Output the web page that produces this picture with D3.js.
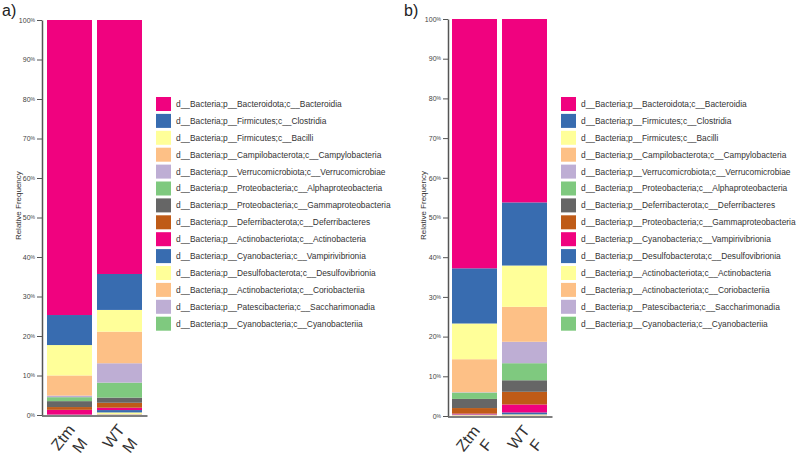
<!DOCTYPE html>
<html>
<head>
<meta charset="utf-8">
<script src="https://cdn.jsdelivr.net/npm/d3@7"></script>
<style>
  body { margin: 0; background: #fff; }
  svg { font-family: "Liberation Sans", Arial, sans-serif; }
</style>
</head>
<body>
<div id="chart"></div>
<script>
// Panel a data (males)
const samplesA = ['Ztm|M', 'WT|M'];
const taxaA = [
  'd__Bacteria;p__Bacteroidota;c__Bacteroidia',
  'd__Bacteria;p__Firmicutes;c__Clostridia',
  'd__Bacteria;p__Firmicutes;c__Bacilli',
  'd__Bacteria;p__Campilobacterota;c__Campylobacteria',
  'd__Bacteria;p__Verrucomicrobiota;c__Verrucomicrobiae',
  'd__Bacteria;p__Proteobacteria;c__Alphaproteobacteria',
  'd__Bacteria;p__Proteobacteria;c__Gammaproteobacteria',
  'd__Bacteria;p__Deferribacterota;c__Deferribacteres',
  'd__Bacteria;p__Actinobacteriota;c__Actinobacteria',
  'd__Bacteria;p__Cyanobacteria;c__Vampirivibrionia',
  'd__Bacteria;p__Desulfobacterota;c__Desulfovibrionia',
  'd__Bacteria;p__Actinobacteriota;c__Coriobacteriia',
  'd__Bacteria;p__Patescibacteria;c__Saccharimonadia',
  'd__Bacteria;p__Cyanobacteria;c__Cyanobacteriia'
];
const valuesA_Ztm = [74.69, 7.6, 7.7, 5.1, 0.4, 1.0, 1.5, 0.7, 1.2, 0.05, 0.02, 0.02, 0.01, 0.01];
const valuesA_WT  = [64.3, 9.1, 5.5, 8.0, 4.9, 3.8, 1.3, 1.25, 0.6, 0.6, 0.4, 0.1, 0.1, 0.05];

// Panel b data (females)
const samplesB = ['Ztm|F', 'WT|F'];
const taxaB = [
  'd__Bacteria;p__Bacteroidota;c__Bacteroidia',
  'd__Bacteria;p__Firmicutes;c__Clostridia',
  'd__Bacteria;p__Firmicutes;c__Bacilli',
  'd__Bacteria;p__Campilobacterota;c__Campylobacteria',
  'd__Bacteria;p__Verrucomicrobiota;c__Verrucomicrobiae',
  'd__Bacteria;p__Proteobacteria;c__Alphaproteobacteria',
  'd__Bacteria;p__Deferribacterota;c__Deferribacteres',
  'd__Bacteria;p__Proteobacteria;c__Gammaproteobacteria',
  'd__Bacteria;p__Cyanobacteria;c__Vampirivibrionia',
  'd__Bacteria;p__Desulfobacterota;c__Desulfovibrionia',
  'd__Bacteria;p__Actinobacteriota;c__Actinobacteria',
  'd__Bacteria;p__Actinobacteriota;c__Coriobacteriia',
  'd__Bacteria;p__Patescibacteria;c__Saccharimonadia',
  'd__Bacteria;p__Cyanobacteria;c__Cyanobacteriia'
];
const valuesB_Ztm = [62.8, 13.9, 9.0, 8.3, 0.1, 1.6, 2.3, 1.4, 0.2, 0.1, 0.1, 0.1, 0.05, 0.05];
const valuesB_WT  = [46.2, 15.9, 10.4, 8.8, 5.4, 4.3, 2.9, 3.2, 2.0, 0.5, 0.2, 0.1, 0.05, 0.05];

const yTicks = [0, 10, 20, 30, 40, 50, 60, 70, 80, 90, 100];
const palette = ['#f0027f', '#386cb0', '#ffff99', '#fdc086', '#beaed4', '#7fc97f', '#666666', '#bf5b17'];

const width = 800, height = 456;
const svg = d3.select('#chart').append('svg')
  .attr('width', width)
  .attr('height', height);

function drawPanel(cfg) {
  const { label, labelX, axisX, yTop, yBottom, barRange, samples, taxa, values, legendX, titleX } = cfg;

  // build rows: one object per sample, keyed by taxon index
  const rows = samples.map((s, i) => {
    const row = { sample: s };
    taxa.forEach((t, j) => { row['t' + j] = values[i][j]; });
    return row;
  });
  const keys = taxa.map((t, j) => 't' + j);
  // first taxon on top -> stack from the last key upward
  const stack = d3.stack().keys(keys.slice().reverse())(rows);

  const x = d3.scaleBand()
    .domain(samples)
    .range(barRange)
    .paddingInner(0.1)
    .paddingOuter(0.05);
  const y = d3.scaleLinear().domain([0, 100]).range([yBottom, yTop]);
  const color = d3.scaleOrdinal().domain(keys).range(palette);

  svg.append('g')
    .selectAll('g')
    .data(stack)
    .enter().append('g')
    .attr('fill', d => color(d.key))
    .selectAll('rect')
    .data(d => d)
    .enter().append('rect')
    .attr('x', d => x(d.data.sample))
    .attr('width', x.bandwidth())
    .attr('y', d => y(d[1]))
    .attr('height', d => Math.max(0, y(d[0]) - y(d[1])));

  // y axis
  const yAxis = svg.append('g')
    .attr('transform', `translate(${axisX},0)`)
    .call(d3.axisLeft(y).tickValues(yTicks).tickSize(5).tickSizeOuter(0).tickPadding(2));
  yAxis.select('.domain').attr('stroke', '#555').attr('stroke-width', 1.5);
  yAxis.selectAll('.tick line').attr('stroke', '#555');
  yAxis.selectAll('.tick text')
    .attr('fill', '#444')
    .style('font-size', '7px')
    .text(d => d)
    .append('tspan')
    .style('font-size', '5px')
    .attr('dy', '-1')
    .text('%');

  // x axis line
  svg.append('line')
    .attr('x1', axisX).attr('x2', barRange[1] + 3)
    .attr('y1', y(0) + 1).attr('y2', y(0) + 1)
    .attr('stroke', '#555').attr('stroke-width', 1.5);

  // x labels, two lines, rotated
  const xl = svg.append('g').selectAll('g')
    .data(samples)
    .enter().append('g')
    .attr('transform', d => `translate(${x(d) + x.bandwidth() / 2 - 4},${y(0) + 7}) rotate(-52)`);
  xl.append('text')
    .attr('text-anchor', 'end')
    .attr('dy', '0.8em')
    .style('font-size', '16px')
    .attr('fill', '#333')
    .text(d => d.split('|')[0]);
  xl.append('text')
    .attr('text-anchor', 'end')
    .attr('x', -3)
    .attr('dy', '1.95em')
    .style('font-size', '16px')
    .attr('fill', '#333')
    .text(d => d.split('|')[1]);

  // y axis title
  svg.append('text')
    .attr('transform', `translate(${titleX},${y(53)}) rotate(-90)`)
    .attr('text-anchor', 'middle')
    .style('font-size', '8px')
    .attr('fill', '#333')
    .text('Relative Frequency');

  // panel label
  svg.append('text')
    .attr('x', labelX).attr('y', 16)
    .style('font-size', '16px')
    .attr('fill', '#222')
    .text(label);

  // legend
  const rowH = 16.9;
  const lg = svg.append('g').selectAll('g')
    .data(taxa)
    .enter().append('g')
    .attr('transform', (d, i) => `translate(${legendX},${97 + i * rowH})`);
  lg.append('rect')
    .attr('width', 15).attr('height', 14)
    .attr('fill', (d, i) => color(keys[i]));
  lg.append('text')
    .attr('x', 20).attr('y', 7).attr('dy', '0.35em')
    .style('font-size', '8.4px')
    .attr('fill', '#333')
    .text(d => d);
}

drawPanel({
  label: 'a)', labelX: 2, axisX: 42, yTop: 20, yBottom: 415,
  barRange: [44.5, 144.5], samples: samplesA, taxa: taxaA,
  values: [valuesA_Ztm, valuesA_WT], legendX: 156, titleX: 21
});
drawPanel({
  label: 'b)', labelX: 404, axisX: 448, yTop: 19, yBottom: 416,
  barRange: [449.5, 549.5], samples: samplesB, taxa: taxaB,
  values: [valuesB_Ztm, valuesB_WT], legendX: 561, titleX: 426
});
</script>
</body>
</html>
